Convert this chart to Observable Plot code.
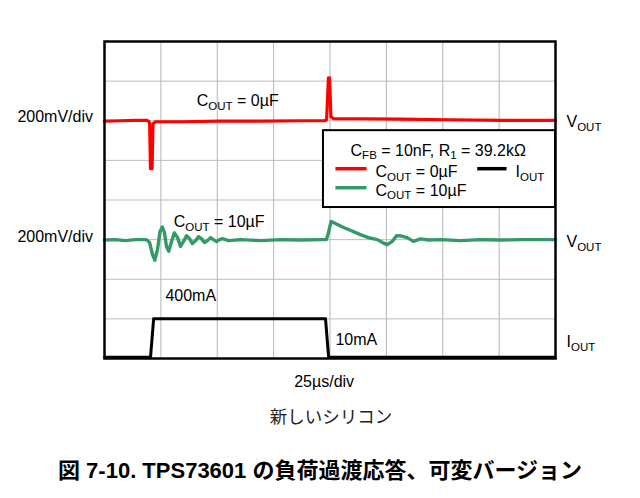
<!DOCTYPE html>
<html><head><meta charset="utf-8">
<script src="https://cdn.jsdelivr.net/npm/d3@7"></script>
<script src="https://cdn.jsdelivr.net/npm/@observablehq/plot@0.6"></script>
<style>
body{margin:0;background:#fff;width:640px;height:498px;position:relative;overflow:hidden;font-family:"Liberation Sans",Arial,sans-serif;}
#topline{position:absolute;left:0;top:3px;width:640px;height:0;border-top:1px solid #a0a0a0;border-bottom:1px solid #444;}
#chart{position:absolute;left:0;top:0;}
#sub{position:absolute;left:0;width:640px;top:405px;text-align:center;font-family:"Noto Sans CJK JP",sans-serif;font-size:17.5px;color:#222;padding-left:22px;box-sizing:border-box;line-height:1.2;}
#title{position:absolute;left:0;width:640px;top:458px;text-align:center;font-weight:bold;font-size:22px;line-height:1.2;font-family:"Liberation Sans","Noto Sans CJK JP",sans-serif;}
</style></head>
<body>
<div id="topline"></div>
<div id="chart"></div>
<div id="sub">新しいシリコン</div>
<div id="title">図 7-10. TPS73601 の負荷過渡応答、可変バージョン</div>
<script>
// ---- data (time in µs, deviation in mV, current in mA) ----
const timeRed = [0,7,14,18.6,19.5,20,20.4,21.1,21.5,22.6,34,51,69,87,97.6,98.5,99.3,99.8,100.4,101.6,113.5,131,153,176,200];
const vRed    = [-2,0,2,2,-2,-10,-242,-242,-15,-5,-5,-2,-2,0,0,5,217,217,20,10,10,8,5,2,2];

const timeGreen = [0,4.9,9.3,13.7,18.6,20,21.3,22.3,23.5,24.6,25.6,26.6,27.5,28.5,29.7,31,32.4,33.7,35,36.4,37.7,39,40.4,41.7,43,44.3,45.7,47,48.3,49.7,51,52.3,55,60.3,69.2,78,86.9,95.8,98.4,99.3,100.5,102.4,106,109.5,113.5,117,121,123.3,125.4,127.6,129.5,131.7,134.2,137,140.1,143.7,149,157.9,166.7,175.6,184.5,200];
const vGreen    = [-2,0,-5,0,0,-15,-76,-104,-50,40,64,35,-35,-59,-10,34,10,-34,-10,20,5,-20,-5,15,5,-15,-5,10,0,-10,0,5,-5,0,-5,0,-2,0,0,35,92,81,61,45,25,10,0,-15,-25,-9,20,18,10,-9,4,-2,0,-5,0,-2,0,0];

const timeI = [0,20.4,21.8,98,99.4,200];
const iOut  = [10,10,400,400,10,10];

const gridX = [25,50,75,100,125,150,175];
const gridY = [1,2,3,4,5,6,7];

const MV_PER_DIV = 200, MA_PER_DIV = 400;
const RED_OFFSET = 6, GREEN_OFFSET = 3, I_OFFSET = 0.03;

const red   = timeRed.map((t,i)=>({t, d: RED_OFFSET + vRed[i]/MV_PER_DIV}));
const green = timeGreen.map((t,i)=>({t, d: GREEN_OFFSET + vGreen[i]/MV_PER_DIV}));
const cur   = timeI.map((t,i)=>({t, d: I_OFFSET + (iOut[i]-10)/MA_PER_DIV}));

// annotation texts and their anchors (data units)
const annotations = [
  {t:40.9, d:6.36, text:"C_{OUT} = 0µF"},
  {t:30.7, d:3.31, text:"C_{OUT} = 10µF"},
  {t:27.0, d:1.44, text:"400mA"},
  {t:102.4, d:0.33, text:"10mA"}
];
const leftLabels = [{d:5.98, text:"200mV/div"},{d:2.94, text:"200mV/div"}];
const rightLabels = [{d:5.84, text:"V_{OUT}"},{d:2.81, text:"V_{OUT}"},{d:0.285, text:"I_{OUT}"}];
const legendBox = {x1:97.1, x2:200, y1:3.81, y2:5.75};
const legendTitle = {t:148, d:5.12, text:"C_{FB} = 10nF, R_{1} = 39.2kΩ"};
const legendItems = [
  {t1:102.4, t2:116.2, d:4.79, color:"#ff0000", tx:120.2, td:4.58, text:"C_{OUT} = 0µF"},
  {t1:165.3, t2:178.3, d:4.79, color:"#000000", tx:182.3, td:4.58, text:"I_{OUT}"},
  {t1:102.4, t2:116.2, d:4.31, color:"#339966", tx:120.2, td:4.11, text:"C_{OUT} = 10µF"}
];

const FS = 16;
const chart = Plot.plot({
  width:640, height:400,
  marginLeft:104, marginRight:85, marginTop:41, marginBottom:42,
  x:{domain:[0,200], axis:null},
  y:{domain:[0,8], axis:null},
  style:{fontFamily:"'Liberation Sans', Arial, sans-serif", background:"white", overflow:"visible"},
  marks:[
    Plot.ruleX(gridX,{stroke:"#b5b5b5", strokeWidth:1}),
    Plot.ruleY(gridY,{stroke:"#bdbdbd", strokeWidth:1}),
    Plot.line(red,{x:"t", y:"d", stroke:"#ff0000", strokeWidth:3.2, curve:"linear"}),
    Plot.line(green,{x:"t", y:"d", stroke:"#339966", strokeWidth:3.4, curve:"linear"}),
    Plot.line(cur,{x:"t", y:"d", stroke:"#000", strokeWidth:3}),
    Plot.rect([legendBox],{x1:"x1", x2:"x2", y1:"y1", y2:"y2", fill:"white", stroke:"#000", strokeWidth:2}),
    ...legendItems.map(it => Plot.link([it],{x1:"t1", x2:"t2", y1:"d", y2:"d", stroke:it.color, strokeWidth:3.5})),
    Plot.text(legendItems,{x:"tx", y:"td", text:"text", textAnchor:"start", lineAnchor:"bottom", fontSize:FS, fill:"#000"}),
    Plot.text([legendTitle],{x:"t", y:"d", text:"text", textAnchor:"middle", lineAnchor:"bottom", fontSize:FS, fill:"#000"}),
    Plot.frame({stroke:"#000", strokeWidth:2.5}),
    Plot.text(annotations,{x:"t", y:"d", text:"text", textAnchor:"start", lineAnchor:"bottom", fontSize:FS, fill:"#000"}),
    Plot.text(leftLabels,{y:"d", text:"text", frameAnchor:"left", textAnchor:"end", lineAnchor:"bottom", dx:-11.5, fontSize:FS, fill:"#000"}),
    Plot.text(rightLabels,{y:"d", text:"text", frameAnchor:"right", textAnchor:"start", lineAnchor:"bottom", dx:11, fontSize:FS, fill:"#000"}),
    Plot.text(["25µs/div"],{x:97.4, text:d=>d, frameAnchor:"bottom", lineAnchor:"bottom", dy:28, fontSize:FS, fill:"#000"})
  ]
});
document.getElementById("chart").appendChild(chart);

// subscripts: "_{...}"
chart.querySelectorAll("text").forEach(el => {
  const s = el.textContent;
  if (!s.includes("_{")) return;
  el.textContent = "";
  const re = /_\{([^}]*)\}/g;
  let last = 0, m, shifted = false;
  const NS = "http://www.w3.org/2000/svg";
  const add = (txt, sub) => {
    const ts = document.createElementNS(NS,"tspan");
    ts.textContent = txt;
    if (sub) { ts.setAttribute("font-size", "11.5"); ts.setAttribute("dy", "3.5"); shifted = true; }
    else if (shifted) { ts.setAttribute("dy", "-3.5"); shifted = false; }
    el.appendChild(ts);
  };
  while ((m = re.exec(s))) {
    if (m.index > last) add(s.slice(last, m.index), false);
    add(m[1], true);
    last = re.lastIndex;
  }
  if (last < s.length) add(s.slice(last), false);
});
</script>
</body></html>
